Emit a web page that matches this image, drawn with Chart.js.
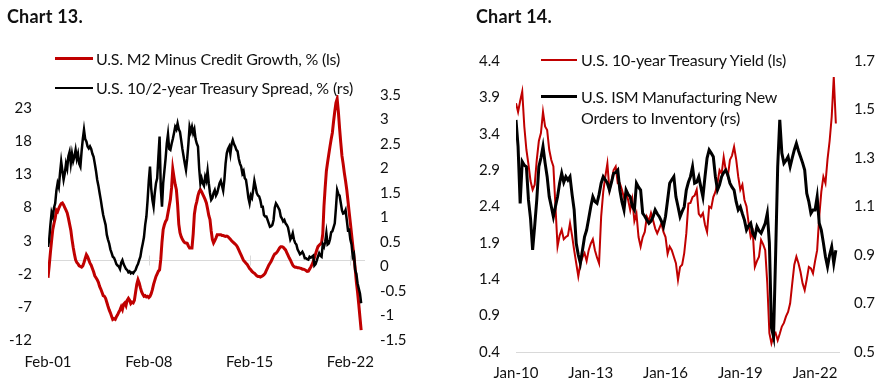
<!DOCTYPE html>
<html><head><meta charset="utf-8">
<script src="https://cdn.jsdelivr.net/npm/chart.js@4/dist/chart.umd.min.js"></script>
<style>
html,body{margin:0;padding:0;background:#fff;}
body{width:888px;height:388px;position:relative;overflow:hidden;font-family:Lato,'Liberation Sans',sans-serif;color:#111;}
.title{position:absolute;font-weight:700;font-size:18px;line-height:20px;white-space:nowrap;}
.leg{position:absolute;font-size:16px;line-height:20px;white-space:nowrap;}
.sw{position:absolute;}
canvas{position:absolute;top:0;}
</style></head><body>
<canvas id="c13" width="444" height="388" style="left:0"></canvas>
<canvas id="c14" width="444" height="388" style="left:444px"></canvas>
<div class="title" data-w="76" style="left:7px;top:6px">Chart 13.</div>
<div class="title" data-w="76" style="left:476px;top:6px">Chart 14.</div>
<div class="sw" style="left:55px;top:57px;width:38px;height:3px;background:#c00000"></div>
<div class="leg" data-w="244" style="left:96px;top:49px">U.S. M2 Minus Credit Growth, % (ls)</div>
<div class="sw" style="left:55px;top:87px;width:38px;height:2px;background:#000"></div>
<div class="leg" data-w="257" style="left:96px;top:78px">U.S. 10/2-year Treasury Spread, % (rs)</div>
<div class="sw" style="left:541px;top:59px;width:36px;height:2px;background:#c00000"></div>
<div class="leg" data-w="205" style="left:581px;top:50px">U.S. 10-year Treasury Yield (ls)</div>
<div class="sw" style="left:541px;top:95px;width:36px;height:3px;background:#000"></div>
<div class="leg" data-w="196" style="left:581px;top:87px">U.S. ISM Manufacturing New</div>
<div class="leg" data-w="159" style="left:581px;top:108px">Orders to Inventory (rs)</div>
<script>
// ---------- Chart 13 data: monthly, Feb 2001 - Nov 2022 ----------
const c13Start = [2001, 2];
const m2MinusCredit = [
 -2.6,-0.8,1.2,3.0,4.7,5.6,6.4,7.6,7.4,7.9,8.3,
 8.6,8.7,8.4,8.0,7.6,7.2,6.4,5.5,4.6,3.2,2.0,1.0,
 0.1,-0.3,-0.5,-0.8,-0.9,-1.0,-0.8,-0.3,0.3,0.9,0.6,0.1,
 -0.4,-0.7,-1.2,-1.7,-2.3,-2.6,-2.9,-3.3,-3.9,-4.3,-4.8,-5.3,
 -5.4,-5.7,-6.3,-6.9,-7.45,-7.9,-8.4,-8.9,-8.8,-8.9,-8.5,-8.2,
 -7.8,-7.45,-7.0,-7.4,-6.6,-6.4,-6.8,-6.0,-5.7,-6.0,-6.5,-6.3,
 -6.4,-6.0,-4.8,-3.6,-2.9,-3.4,-4.1,-4.7,-5.1,-5.4,-5.3,-5.5,
 -5.4,-5.6,-5.4,-5.0,-4.4,-3.6,-3.0,-2.4,-2.0,-1.6,-1.4,0.2,
 2.8,4.7,5.4,5.9,6.2,7.2,8.2,9.2,11.0,13.8,12.6,11.5,
 10.7,8.5,5.5,4.2,3.6,3.2,2.9,2.7,2.65,2.6,2.2,1.9,
 1.9,1.9,4.0,7.0,8.2,8.9,9.8,10.4,10.7,10.4,10.0,9.6,
 9.2,8.7,7.8,6.8,6.2,4.5,3.2,2.65,3.0,3.4,3.9,3.9,
 3.9,3.9,3.8,3.8,3.7,3.65,3.7,3.6,3.4,3.2,3.0,2.8,
 2.65,2.5,2.3,2.0,1.6,1.2,0.8,0.4,0.0,-0.2,-0.4,-0.6,
 -0.9,-1.2,-1.4,-1.65,-1.8,-1.9,-2.1,-2.3,-2.4,-2.4,-2.5,-2.4,
 -2.3,-2.15,-1.9,-1.5,-1.1,-0.7,-0.4,-0.1,0.3,0.7,1.0,1.1,
 1.3,1.6,1.9,2.1,2.1,2.0,1.8,1.6,1.2,0.8,0.4,0.1,
 -0.3,-0.7,-0.9,-1.0,-1.0,-1.1,-1.1,-1.15,-1.2,-1.3,-1.3,-1.4,
 -1.5,-1.65,-1.6,-1.3,-1.0,-0.6,-0.2,0.4,1.0,1.6,2.1,2.3,
 2.5,2.65,4.0,8.2,11.0,13.5,14.8,16.0,17.2,18.3,19.3,21.0,
 22.5,23.8,24.4,22.5,20.0,17.8,15.8,14.6,13.2,12.0,10.7,9.0,
 7.3,5.7,4.0,2.3,0.6,-1.2,-3.2,-4.8,-6.6,-8.6,-10.5
];
const spread10y2y = [
 0.40,0.55,0.85,1.10,1.02,1.20,1.29,1.55,1.70,1.62,1.90,
 2.14,1.95,1.77,1.90,2.10,2.00,2.25,2.34,2.10,2.30,2.15,2.24,
 2.38,2.20,2.30,2.10,2.04,2.35,2.60,2.79,2.60,2.55,2.45,2.41,
 2.45,2.40,2.30,2.24,2.10,1.95,1.77,1.65,1.50,1.36,1.20,1.05,
 0.95,0.85,0.65,0.55,0.47,0.35,0.28,0.20,0.18,0.12,0.05,0.02,
 0.00,-0.05,0.08,0.13,0.05,0.00,-0.05,-0.07,-0.12,-0.10,-0.14,-0.12,
 -0.14,-0.10,-0.07,0.00,0.05,0.13,0.20,0.35,0.47,0.60,0.85,1.02,
 1.35,1.75,2.04,1.60,1.36,1.22,1.50,1.70,1.80,2.24,2.65,1.60,
 1.22,1.70,1.95,2.20,2.51,2.70,2.40,2.38,2.50,2.60,2.72,2.85,
 2.80,2.92,2.80,2.75,2.58,2.40,2.25,2.10,1.97,2.20,2.50,2.85,
 2.75,2.85,2.72,2.80,2.60,2.51,2.45,2.00,1.70,1.80,1.70,1.65,
 1.83,1.75,1.95,1.70,1.50,1.36,1.40,1.50,1.56,1.45,1.50,1.60,
 1.70,1.75,1.65,1.55,1.77,2.10,2.31,2.40,2.45,2.30,2.50,2.58,
 2.50,2.45,2.38,2.35,2.20,2.10,2.04,1.90,1.95,1.80,1.77,1.60,
 1.40,1.29,1.45,1.40,1.56,1.75,1.63,1.50,1.45,1.43,1.35,1.22,
 1.22,1.05,1.02,1.02,0.95,0.88,0.81,0.82,0.85,0.95,1.20,1.29,
 1.25,1.20,1.15,1.02,0.98,0.92,0.95,0.88,0.85,0.80,0.68,0.55,
 0.60,0.68,0.55,0.48,0.45,0.35,0.30,0.25,0.27,0.30,0.25,0.17,
 0.17,0.15,0.14,0.20,0.18,0.20,0.22,0.02,0.05,0.12,0.20,0.27,
 0.22,0.20,0.45,0.40,0.50,0.68,0.45,0.47,0.55,0.70,0.72,0.80,
 0.88,1.20,1.56,1.48,1.45,1.30,1.15,1.08,1.09,1.15,0.95,0.74,
 0.75,0.55,0.45,0.20,0.25,-0.07,-0.15,-0.34,-0.45,-0.55,-0.75
];
const c13TickLabels = ['Feb-01','Feb-08','Feb-15','Feb-22'];
const c13TickYears = [2001, 2008, 2015, 2022];
const c13LeftTicks = [-12,-7,-2,3,8,13,18,23];
const c13RightTicks = [-1.5,-1,-0.5,0,0.5,1,1.5,2,2.5,3,3.5];

// ---------- Chart 14 data: monthly, Jan 2010 - Nov 2022 ----------
const c14Start = [2010, 1];
const ust10y = [
 3.82,3.70,3.85,3.98,3.50,3.18,2.98,2.75,2.63,2.70,3.04,3.30,
 3.41,3.70,3.50,3.45,3.18,3.04,2.95,2.40,1.85,2.00,2.08,1.95,
 1.98,2.00,2.17,2.00,1.80,1.62,1.44,1.62,1.70,1.76,1.65,1.80,
 1.89,1.95,1.80,1.70,1.62,2.26,2.60,2.81,2.99,2.62,2.75,2.90,
 2.95,2.72,2.72,2.63,2.52,2.60,2.49,2.35,2.50,2.20,2.30,1.98,
 1.85,1.98,2.05,2.26,2.20,2.31,2.21,2.10,2.03,2.10,2.17,2.05,
 1.98,1.75,1.85,1.80,1.71,1.62,1.39,1.57,1.60,1.76,2.03,2.44,
 2.45,2.53,2.55,2.63,2.30,2.26,2.31,2.15,2.05,2.40,2.38,2.53,
 2.60,2.72,2.90,2.85,3.08,2.90,2.81,3.04,3.10,3.22,3.05,2.81,
 2.63,2.70,2.49,2.40,2.17,1.98,2.05,1.57,1.65,1.71,1.94,1.88,
 1.80,1.34,0.66,0.52,0.62,0.66,0.56,0.65,0.75,0.80,0.89,0.95,
 1.07,1.34,1.60,1.71,1.62,1.50,1.34,1.25,1.40,1.57,1.55,1.48,
 1.65,1.80,2.26,2.60,2.81,2.72,3.05,3.30,3.63,4.18,3.54
];
const ismNewOrdersToInv = [
 1.457,1.347,1.113,1.285,1.270,1.264,1.127,1.050,0.921,1.020,1.127,1.264,
 1.300,1.347,1.280,1.223,1.140,1.100,1.058,1.100,1.140,1.196,1.237,1.200,
 1.223,1.209,1.223,1.150,1.086,0.948,0.900,0.866,0.920,0.975,1.003,1.050,
 1.099,1.140,1.120,1.113,1.150,1.196,1.223,1.210,1.196,1.168,1.200,1.237,
 1.240,1.250,1.168,1.120,1.086,1.168,1.150,1.140,1.100,1.086,1.196,1.180,
 1.168,1.072,1.060,1.044,1.031,1.040,1.058,1.086,1.070,1.058,1.040,1.017,
 1.060,1.127,1.196,1.210,1.223,1.140,1.100,1.058,1.080,1.099,1.168,1.200,
 1.223,1.264,1.196,1.200,1.223,1.180,1.140,1.223,1.300,1.333,1.320,1.305,
 1.223,1.168,1.190,1.223,1.240,1.250,1.230,1.196,1.180,1.168,1.120,1.086,
 1.099,1.070,1.044,1.003,1.020,1.031,0.990,0.975,1.017,1.000,0.990,1.010,
 1.031,1.072,0.950,0.600,0.563,0.900,1.264,1.457,1.320,1.278,1.290,1.305,
 1.264,1.300,1.333,1.360,1.330,1.305,1.280,1.250,1.154,1.120,1.072,1.086,
 1.086,1.140,1.031,1.003,0.950,0.893,0.852,0.900,0.934,0.866,0.920
];
const c14TickLabels = ['Jan-10','Jan-13','Jan-16','Jan-19','Jan-22'];
const c14TickYears = [2010, 2013, 2016, 2019, 2022];
const c14LeftTicks = [0.4,0.9,1.4,1.9,2.4,2.9,3.4,3.9,4.4];
const c14RightTicks = [0.5,0.7,0.9,1.1,1.3,1.5,1.7];

// ---------- fit legend/title text widths to the reference ----------
function fitText() {
  document.querySelectorAll('[data-w]').forEach(el => {
    el.style.letterSpacing = '0px';
    const w = el.getBoundingClientRect().width;
    const n = el.textContent.length;
    el.style.letterSpacing = ((+el.dataset.w - w) / n).toFixed(3) + 'px';
  });
}
fitText();
if (document.fonts && document.fonts.ready) document.fonts.ready.then(fitText);

// ---------- helpers ----------
const RED = '#c00000', BLACK = '#000000', AXIS_GREY = '#d9d9d9', TXT = '#111111';
const tickFont = {family: "Lato, 'Liberation Sans', sans-serif", size: 15};
function monthlyPoints(start, values) {
  return values.map((v, i) => ({x: start[0] + (start[1] - 1 + i) / 12, y: v}));
}
function fmt(v) { return String(Math.round(v * 100) / 100); }
function setTicks(values) { return scale => { scale.ticks = values.map(v => ({value: v})); }; }

// Excel-style tick marks crossing the horizontal zero line
const zeroTickMarks = {
  id: 'zeroTickMarks',
  afterDatasetsDraw(chart, args, opts) {
    if (!opts || !opts.enabled) return;
    const xs = chart.scales.x, ys = chart.scales.y;
    const y0 = ys.getPixelForValue(0);
    const ctx = chart.ctx;
    ctx.save();
    ctx.strokeStyle = AXIS_GREY; ctx.lineWidth = 1;
    xs.ticks.forEach((t, i) => {
      if (i === 0) return;
      const px = Math.round(xs.getPixelForValue(t.value)) + 0.5;
      ctx.beginPath(); ctx.moveTo(px, y0 - 5); ctx.lineTo(px, y0 + 5); ctx.stroke();
    });
    ctx.restore();
  }
};

// ---------- Chart 13 ----------
new Chart(document.getElementById('c13'), {
  type: 'line',
  data: {
    datasets: [
      {label: 'U.S. 10/2-year Treasury Spread, % (rs)', data: monthlyPoints(c13Start, spread10y2y),
       yAxisID: 'y2', borderColor: BLACK, borderWidth: 2.5, pointRadius: 0, tension: 0},
      {label: 'U.S. M2 Minus Credit Growth, % (ls)', data: monthlyPoints(c13Start, m2MinusCredit),
       yAxisID: 'y', borderColor: RED, borderWidth: 3, pointRadius: 0, tension: 0}
    ]
  },
  plugins: [zeroTickMarks],
  options: {
    responsive: false, animation: false, events: [],
    layout: {padding: {top: 95, left: 0, right: 0, bottom: 0}},
    plugins: {legend: {display: false}, tooltip: {enabled: false}, zeroTickMarks: {enabled: true}},
    scales: {
      x: {type: 'linear', min: 2001 + 1/12, max: 2023.1,
          afterBuildTicks: setTicks(c13TickYears.map(y => y + 1/12)),
          afterFit: s => { s.height = 48; },
          ticks: {autoSkip: false, maxRotation: 0, padding: 13, font: tickFont, color: TXT,
                  callback: (v, i) => c13TickLabels[i]},
          grid: {display: false, drawTicks: false}, border: {display: false}},
      y: {position: 'left', min: -12, max: 25,
          afterBuildTicks: setTicks([...c13LeftTicks, 0].sort((a, b) => a - b)),
          afterFit: s => { s.width = 48; },
          ticks: {autoSkip: false, padding: 16, font: tickFont, color: TXT,
                  callback: v => (v === 0 ? '' : fmt(v))},
          grid: {drawTicks: false, lineWidth: 1,
                 color: c => (c.tick && c.tick.value === 0 ? AXIS_GREY : 'rgba(0,0,0,0)')},
          border: {display: false}},
      y2: {position: 'right', min: -1.5, max: 3.5,
          afterBuildTicks: setTicks(c13RightTicks),
          afterFit: s => { s.width = 79; },
          ticks: {autoSkip: false, padding: 15, font: tickFont, color: TXT, callback: v => fmt(v)},
          grid: {display: false, drawTicks: false}, border: {display: false}}
    }
  }
});

// ---------- Chart 14 ----------
new Chart(document.getElementById('c14'), {
  type: 'line',
  data: {
    datasets: [
      {label: 'U.S. ISM Manufacturing New Orders to Inventory (rs)', data: monthlyPoints(c14Start, ismNewOrdersToInv),
       yAxisID: 'y2', borderColor: BLACK, borderWidth: 3, pointRadius: 0, tension: 0},
      {label: 'U.S. 10-year Treasury Yield (ls)', data: monthlyPoints(c14Start, ust10y),
       yAxisID: 'y', borderColor: RED, borderWidth: 2, pointRadius: 0, tension: 0}
    ]
  },
  options: {
    responsive: false, animation: false, events: [],
    layout: {padding: {top: 61, left: 0, right: 0, bottom: 0}},
    plugins: {legend: {display: false}, tooltip: {enabled: false}},
    scales: {
      x: {type: 'linear', min: 2010, max: 2022.96,
          afterBuildTicks: setTicks(c14TickYears),
          afterFit: s => { s.height = 36; },
          ticks: {autoSkip: false, maxRotation: 0, padding: 12, font: tickFont, color: TXT,
                  callback: (v, i) => c14TickLabels[i]},
          grid: {display: false, drawTicks: false}, border: {display: true, color: AXIS_GREY, width: 1}},
      y: {position: 'left', min: 0.4, max: 4.4,
          afterBuildTicks: setTicks(c14LeftTicks),
          afterFit: s => { s.width = 72; },
          ticks: {autoSkip: false, padding: 16, font: tickFont, color: TXT, callback: v => Number(v).toFixed(1)},
          grid: {display: false, drawTicks: false}, border: {display: false}},
      y2: {position: 'right', min: 0.5, max: 1.7,
          afterBuildTicks: setTicks(c14RightTicks),
          afterFit: s => { s.width = 49; },
          ticks: {autoSkip: false, padding: 15, font: tickFont, color: TXT, callback: v => Number(v).toFixed(1)},
          grid: {display: false, drawTicks: false}, border: {display: false}}
    }
  }
});
</script>
</body></html>
